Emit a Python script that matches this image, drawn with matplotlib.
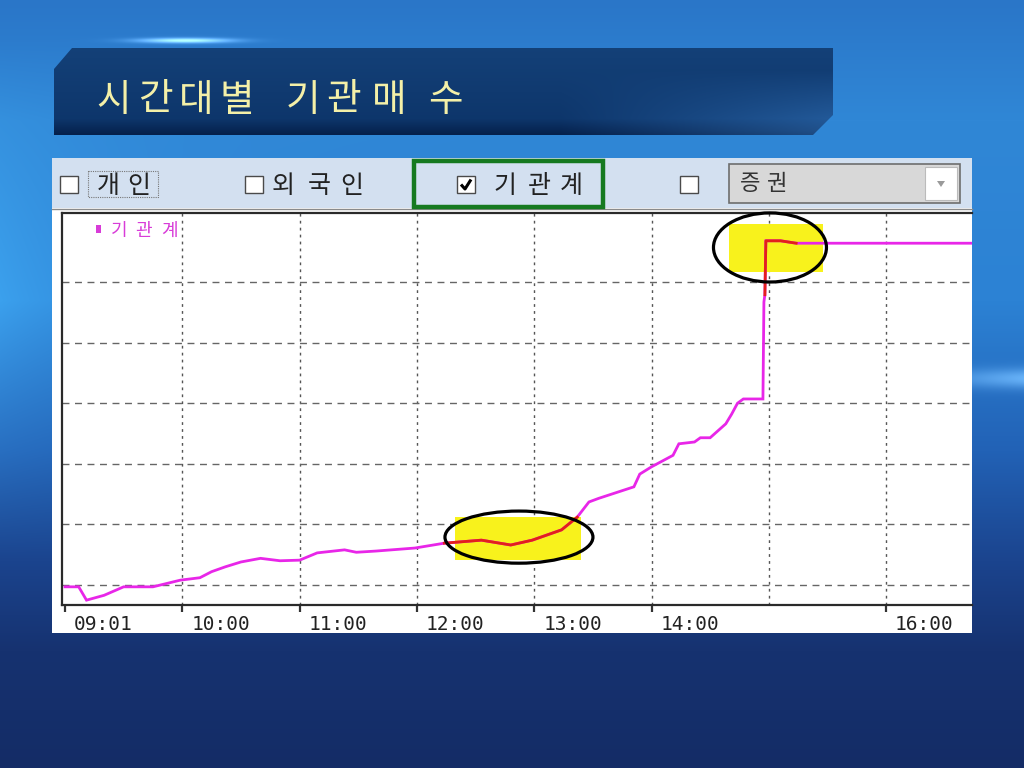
import numpy as np
import matplotlib
matplotlib.use("Agg")
import matplotlib.pyplot as plt
from matplotlib.patches import Polygon, Rectangle, Ellipse
from matplotlib.transforms import ScaledTranslation

plt.rcParams['font.family'] = ['Noto Sans CJK KR', 'DejaVu Sans']

# ---------------- data ----------------
title = "시간대별 기관매수"
series_name = "기관계"
option_labels = ["개인", "외국인", "기관계", ""]
option_checked = [False, False, True, False]
combo_value = "증권"

tick_minutes = [0, 60, 120, 180, 240, 300, 420]
tick_labels = ["09:01", "10:00", "11:00", "12:00", "13:00", "14:00", "16:00"]
grid_minutes = [60, 120, 180, 240, 300, 360, 420]
grid_levels = [0, 1, 2, 3, 4, 5]

# minutes after 09:00 and cumulative institutional net buying (relative units)
minutes = [0, 7, 11, 20, 30, 45, 59, 69, 75, 82, 90, 100, 110, 120, 129, 143,
           149, 159, 179, 194, 213, 228, 239, 254, 262, 268, 273, 291, 294,
           300, 311, 314, 322, 325, 330, 338, 341, 344, 347, 357, 357.5, 358,
           358.5, 366, 374, 464]
values = [-0.03, -0.03, -0.25, -0.17, -0.03, -0.03, 0.08, 0.12, 0.22, 0.30,
          0.38, 0.44, 0.40, 0.41, 0.53, 0.58, 0.54, 0.56, 0.61, 0.69, 0.74,
          0.66, 0.74, 0.91, 1.12, 1.37, 1.43, 1.62, 1.83, 1.95, 2.14, 2.33,
          2.36, 2.43, 2.43, 2.66, 2.82, 3.00, 3.07, 3.07, 4.67, 4.79, 5.68,
          5.68, 5.64, 5.64]
highlight_ranges = [(194, 262), (358, 374)]
# highlight boxes / circles (minutes, level)
box_ranges = [((199.5, 264.0), (0.41, 1.12)), ((339.4, 387.6), (5.16, 5.95))]
circle_specs = [((232.2, 0.79), 75.7, 0.86), ((360.6, 5.57), 57.8, 1.14)]

# ---------------- figure ----------------
W, H = 1024, 768
fig = plt.figure(figsize=(W / 100, H / 100), dpi=100)

bg = fig.add_axes([0, 0, 1, 1], zorder=0)
bg.set_axis_off()

# slide background gradient
yy, xx = np.mgrid[0:H, 0:W].astype(float)
stops_y = [0, 120, 300, 450, 560, 650, 768]
stops_c = np.array([(42, 118, 200), (48, 135, 214), (44, 130, 212),
                    (34, 98, 182), (27, 68, 142), (22, 50, 112), (20, 44, 102)]) / 255.0
img = np.zeros((H, W, 3))
for k in range(3):
    img[..., k] = np.interp(yy, stops_y, stops_c[:, k])
left_glow = np.exp(-xx / 120.0) * np.clip(1 - np.abs(yy - 300) / 260, 0, 1)
img += left_glow[..., None] * np.array([0.06, 0.12, 0.10])
streak = np.exp(-((yy - 378) / 10.0) ** 2) * np.clip((xx - 900) / 124, 0, 1)
img += streak[..., None] * np.array([0.25, 0.25, 0.2])
top_glow = np.exp(-((yy - 40) / 2.5) ** 2 - ((xx - 185) / 45.0) ** 2)
img += top_glow[..., None] * np.array([0.55, 0.55, 0.5])
img = np.clip(img, 0, 1)
bg.imshow(img, extent=(0, W, H, 0), aspect='auto', zorder=0, interpolation='bilinear')

# title banner
banner_xy = [(72, 48), (833, 48), (833, 115), (813, 135), (54, 135), (54, 69)]
bpoly = Polygon(banner_xy, closed=True, facecolor='none', edgecolor='none', zorder=1)
bg.add_patch(bpoly)
bimg = np.zeros((H, W, 3))
base = np.array([16, 58, 112]) / 255.0
bimg[:] = base
tfac = np.clip((yy - 48) / 87.0, 0, 1)
bimg += (0.5 - tfac)[..., None] * np.array([0.03, 0.05, 0.06])
dark = np.clip((yy - 118) / 17.0, 0, 1)
bimg -= dark[..., None] * np.array([0.03, 0.08, 0.12])
light = np.clip((xx - 560) / 270.0, 0, 1) * np.clip((yy - 70) / 60.0, 0, 1)
bimg += light[..., None] * np.array([0.10, 0.17, 0.22])
bimg = np.clip(bimg, 0, 1)
bim = bg.imshow(bimg, extent=(0, W, H, 0), aspect='auto', zorder=1)
bim.set_clip_path(bpoly)
bg.set_xlim(0, W)
bg.set_ylim(H, 0)


def chars_at(ax, centers, y, s, **kw):
    chars = [c for c in s if c != " "]
    for cx, ch in zip(centers, chars):
        ax.text(cx, y, ch, ha='center', va='center', **kw)


chars_at(bg, [114, 155, 196, 237, 303, 344, 389, 445], 100, title, fontsize=27,
         color='#f4f0a8', fontweight='light', zorder=3)

# checkbox bar and white panel
bg.add_patch(Rectangle((52, 158), 920, 50, facecolor='#d3e0f0', edgecolor='none', zorder=2))
bg.add_patch(Rectangle((52, 208), 920, 425, facecolor='white', edgecolor='none', zorder=2))
bg.plot([52, 972], [208.5, 208.5], color='#8a8a8a', lw=1, zorder=3)

box_x = [60, 245, 457, 680]
text_centers = [[108, 139], [283, 319, 352], [505, 539, 571], []]
for bx, tc, lab, chk in zip(box_x, text_centers, option_labels, option_checked):
    bg.add_patch(Rectangle((bx, 176), 18, 17, facecolor='white', edgecolor='#4a4a4a',
                           lw=1.0, zorder=3))
    if chk:
        bg.plot([bx + 4, bx + 8, bx + 14], [184.5, 189, 179.5], color='black', lw=2.2,
                zorder=4, solid_capstyle='butt')
    if lab:
        chars_at(bg, tc, 186, lab, fontsize=18, color='#222222', zorder=4)
bg.add_patch(Rectangle((88, 171), 70, 26, facecolor='none', edgecolor='#777777',
                       lw=0.8, ls=(0, (1, 1)), zorder=3))
bg.add_patch(Rectangle((414, 161), 189, 46, facecolor='none', edgecolor='#167a20',
                       lw=3.2, zorder=4))
# combo box
bg.add_patch(Rectangle((729, 164), 231, 39, facecolor='#d8d8d8', edgecolor='#6e6e6e',
                       lw=1.2, zorder=3))
bg.add_patch(Rectangle((925, 167), 32, 33, facecolor='white', edgecolor='#bbbbbb',
                       lw=0.8, zorder=4))
bg.add_patch(Polygon([(937, 181), (945, 181), (941, 187)], closed=True,
                     facecolor='#9a9a9a', edgecolor='none', zorder=5))
chars_at(bg, [750, 776], 183, combo_value, fontsize=16, color='#333333', zorder=4)

# ---------------- chart ----------------
L, R, T, B = 62, 972, 213, 605
ax = fig.add_axes([L / W, 1 - B / H, (R - L) / W, (B - T) / H], zorder=1)
px_per_min = 117.3 / 60.0
ax.set_xlim((L - 65) / px_per_min, (R - 65) / px_per_min)
ax.set_ylim((585 - B) / 60.6, (585 - T) / 60.6)
ax.set_facecolor('white')

for m in grid_minutes:
    ax.axvline(m, color='#555555', lw=1.0, ls=(0, (2, 3)), zorder=1)
for v in grid_levels:
    ax.axhline(v, color='#666666', lw=1.0, ls=(0, (5, 4)), zorder=1)

for (x0, x1), (y0, y1) in box_ranges:
    ax.add_patch(Rectangle((x0, y0), x1 - x0, y1 - y0, facecolor='#f8f21c',
                           edgecolor='none', zorder=2))

mins = np.array(minutes)
vals = np.array(values)
ax.plot(mins, vals, color='#e826e8', lw=2.0, zorder=3, solid_joinstyle='miter')
for a, b in highlight_ranges:
    sel = (mins >= a) & (mins <= b)
    ax.plot(mins[sel], vals[sel], color='#e3201b', lw=2.0, zorder=4)

for (cx, cy), w, h in circle_specs:
    ax.add_patch(Ellipse((cx, cy), w, h, facecolor='none', edgecolor='black',
                         lw=2.3, zorder=5, clip_on=False))

for side in ['left', 'bottom', 'top']:
    ax.spines[side].set_color('#2a2a2a')
    ax.spines[side].set_linewidth(1.6)
ax.spines['right'].set_visible(False)
ax.set_yticks([])
ax.set_xticks(tick_minutes)
ax.set_xticklabels(tick_labels, fontsize=14, family='DejaVu Sans Mono', color='#222222')
ax.tick_params(axis='x', direction='out', length=5, width=1.6, color='#333333', pad=2)
offset = ScaledTranslation(9 / 100, 0, fig.dpi_scale_trans)
for lbl in ax.get_xticklabels():
    lbl.set_horizontalalignment('left')
    lbl.set_transform(lbl.get_transform() + offset)

# legend inside chart
ov = fig.add_axes([0, 0, 1, 1], zorder=2)
ov.set_axis_off()
ov.patch.set_alpha(0)
ov.set_xlim(0, W)
ov.set_ylim(H, 0)
ov.add_patch(Rectangle((96, 225), 5, 8, facecolor='#d83cd8', edgecolor='none'))
chars_at(ov, [119, 144, 169], 231, series_name, fontsize=13, color='#d83cd8')

fig.savefig('out.png', dpi=100)
